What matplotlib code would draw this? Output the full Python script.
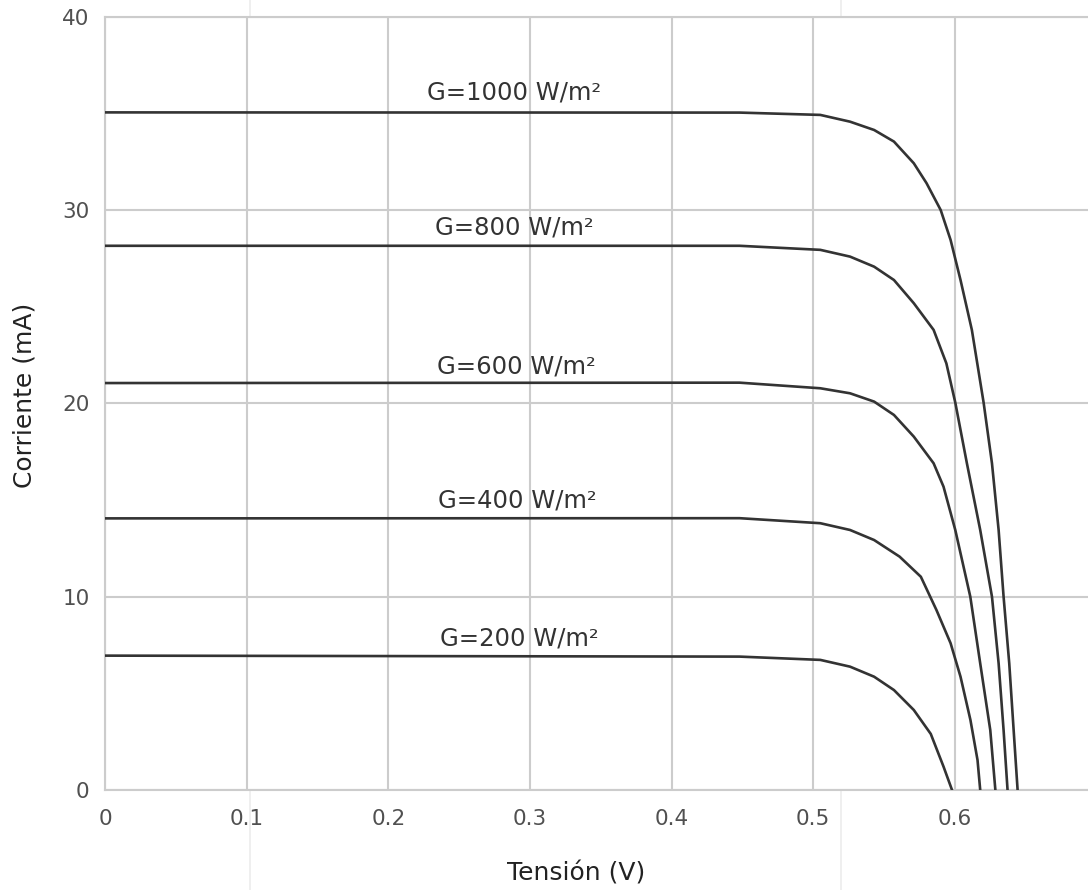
import matplotlib
matplotlib.use("Agg")
import matplotlib.pyplot as plt
from matplotlib.lines import Line2D

# I-V curves (V in volts, I in mA)
v_1000 = [0.0, 0.448, 0.505, 0.526, 0.543, 0.557, 0.571, 0.580, 0.590, 0.597,
          0.604, 0.612, 0.6203, 0.6262, 0.6309, 0.6344, 0.6384, 0.6415, 0.6443]
i_1000 = [35.05, 35.04, 34.92, 34.57, 34.14, 33.54, 32.42, 31.39, 30.0, 28.45,
          26.38, 23.8, 20.04, 16.9, 13.45, 10.0, 6.55, 3.1, 0.0]

v_800 = [0.0, 0.448, 0.505, 0.526, 0.543, 0.557, 0.571, 0.585, 0.594, 0.6003,
         0.6085, 0.6179, 0.6262, 0.6309, 0.6344, 0.6372]
i_800 = [28.15, 28.15, 27.94, 27.59, 27.07, 26.38, 25.18, 23.8, 22.07, 20.04,
         16.9, 13.45, 10.0, 6.55, 3.1, 0.0]

v_600 = [0.0, 0.448, 0.505, 0.526, 0.543, 0.557, 0.571, 0.585, 0.592, 0.6003,
         0.6109, 0.6179, 0.625, 0.6286]
i_600 = [21.05, 21.07, 20.78, 20.52, 20.09, 19.4, 18.28, 16.9, 15.69, 13.45,
         10.0, 6.55, 3.1, 0.0]

v_400 = [0.0, 0.448, 0.505, 0.526, 0.543, 0.561, 0.576, 0.587, 0.597, 0.604,
         0.611, 0.616, 0.6179]
i_400 = [14.05, 14.06, 13.8, 13.45, 12.93, 12.07, 11.03, 9.31, 7.59, 5.86,
         3.62, 1.55, 0.0]

v_200 = [0.0, 0.448, 0.505, 0.526, 0.543, 0.557, 0.571, 0.583, 0.592, 0.598]
i_200 = [6.95, 6.9, 6.73, 6.38, 5.86, 5.17, 4.14, 2.9, 1.21, 0.0]

labels = ["G=1000 W/m²", "G=800 W/m²", "G=600 W/m²", "G=400 W/m²", "G=200 W/m²"]
label_v = [0.2885, 0.2889, 0.2903, 0.291, 0.2924]
label_i = [35.73, 28.75, 21.52, 14.62, 7.45]

x_ticks = [0, 0.1, 0.2, 0.3, 0.4, 0.5, 0.6]
x_ticklabels = ["0", "0.1", "0.2", "0.3", "0.4", "0.5", "0.6"]
y_ticks = [0, 10, 20, 30, 40]

C_LINE = "#333333"
C_GRID = "#cccccc"
C_TICK = "#505050"

plt.rcParams["font.family"] = ["DejaVu Sans"]

fig = plt.figure(figsize=(10.88, 8.90), dpi=100)
ax = fig.add_axes([105 / 1088, 1 - 790 / 890, 1 - 105 / 1088, (790 - 16.7) / 890])

# faint page lines that run through the whole picture
for xf in (250 / 1088, 841 / 1088):
    fig.add_artist(Line2D([xf, xf], [0, 1], transform=fig.transFigure,
                          color="#ececec", lw=1.2, zorder=0))

curves = [(v_1000, i_1000), (v_800, i_800), (v_600, i_600), (v_400, i_400), (v_200, i_200)]
for (v, i) in curves:
    ax.plot(v, i, color=C_LINE, lw=1.9, solid_joinstyle="round", zorder=3)

for txt, x, y in zip(labels, label_v, label_i):
    ax.text(x, y, txt, ha="center", va="baseline", fontsize=17.5, color="#333333")

ax.set_xlim(0, 0.694)
ax.set_ylim(0, 40)
ax.set_xticks(x_ticks)
ax.set_xticklabels(x_ticklabels)
ax.set_yticks(y_ticks)
ax.grid(True, color=C_GRID, lw=1.5)
ax.set_axisbelow(True)
ax.tick_params(length=0, labelsize=15.5, labelcolor=C_TICK)
ax.tick_params(axis="x", pad=14)
ax.tick_params(axis="y", pad=11)
for side in ("left", "bottom", "top"):
    ax.spines[side].set_color(C_GRID)
    ax.spines[side].set_linewidth(1.5)
ax.spines["right"].set_visible(False)

ax.set_xlabel("Tensión (V)", fontsize=18, color="#222222")
ax.set_ylabel("Corriente (mA)", fontsize=18, color="#222222")
ax.xaxis.set_label_coords((576 - 105) / (1088 - 105), -(861 - 790) / (790 - 16.7))
ax.yaxis.set_label_coords(-(105 - 37) / (1088 - 105), (790 - 395) / (790 - 16.7))

fig.savefig("out.png", dpi=100)
plt.close(fig)
